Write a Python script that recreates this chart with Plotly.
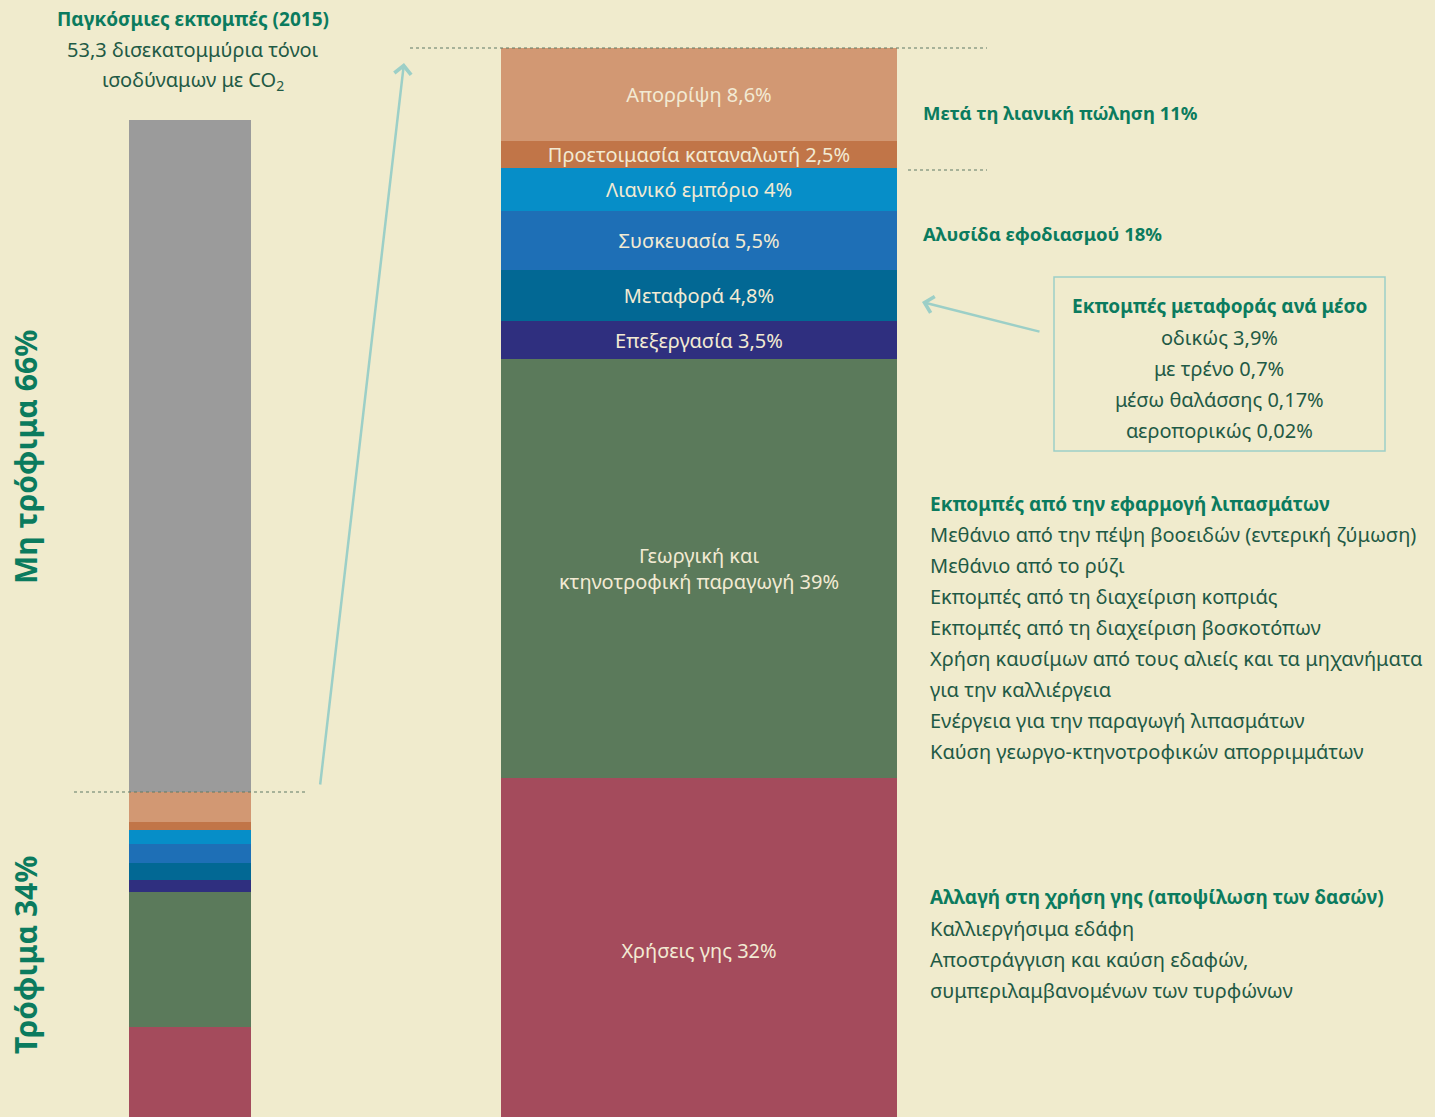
import plotly.graph_objects as go

# food chain stages, bottom to top of the stack
stages = ["Χρήσεις γης", "Γεωργική και<br>κτηνοτροφική παραγωγή", "Επεξεργασία", "Μεταφορά",
          "Συσκευασία", "Λιανικό εμπόριο", "Προετοιμασία καταναλωτή", "Απορρίψη"]
shares = [32, 39, 3.5, 4.8, 5.5, 4, 2.5, 8.6]
colors = ["#A44B5C", "#5B7A5B", "#2F2F7F", "#026894", "#1E6FB6", "#068EC8", "#C17548", "#D29873"]

food_share = 34
nonfood_share = 66

transport_modes = ["οδικώς", "με τρένο", "μέσω θαλάσσης", "αεροπορικώς"]
transport_shares = ["3,9", "0,7", "0,17", "0,02"]

farm_items = ["Μεθάνιο από την πέψη βοοειδών (εντερική ζύμωση)", "Μεθάνιο από το ρύζι",
              "Εκπομπές από τη διαχείριση κοπριάς", "Εκπομπές από τη διαχείριση βοσκοτόπων",
              "Χρήση καυσίμων από τους αλιείς και τα μηχανήματα", "για την καλλιέργεια",
              "Ενέργεια για την παραγωγή λιπασμάτων", "Καύση γεωργο-κτηνοτροφικών απορριμμάτων"]
land_items = ["Καλλιεργήσιμα εδάφη", "Αποστράγγιση και καύση εδαφών,",
              "συμπεριλαμβανομένων των τυρφώνων"]

BG = "#F0EBCD"
GREEN = "#0B7B5E"
DARK = "#1F5A45"
TEAL = "#9CCFC7"
FONT = "Noto Sans"


def pct(v):
    return str(v).replace(".", ",")


fig = go.Figure()

total = sum(shares)
for name, v, c in zip(stages, shares, colors):
    fig.add_trace(go.Bar(x=[190], y=[v * food_share / total], width=122, marker_color=c,
                         marker_line_width=0, showlegend=False, hoverinfo="skip", yaxis="y"))
fig.add_trace(go.Bar(x=[190], y=[nonfood_share], width=122, marker_color="#9B9B9B",
                     marker_line_width=0, showlegend=False, hoverinfo="skip", yaxis="y"))

for name, v, c in zip(stages, shares, colors):
    fig.add_trace(go.Bar(x=[699], y=[v], width=396, marker_color=c, marker_line_width=0,
                         text=[f"{name} {pct(v)}%"], textposition="inside",
                         insidetextanchor="middle", textangle=0, constraintext="none",
                         textfont=dict(family=FONT, size=20, color="#F2EAD3"),
                         showlegend=False, hoverinfo="skip", yaxis="y2"))

ann = []


def txt(x, y, s, bold=False, size=20, color=DARK, anchor="left"):
    ann.append(dict(x=x, y=y, xref="x", yref="y3", text=f"<b>{s}</b>" if bold else s,
                    showarrow=False, xanchor=anchor, yanchor="middle",
                    font=dict(family=FONT, size=size, color=GREEN if bold else color)))


txt(193, 19, "Παγκόσμιες εκπομπές (2015)", bold=True, size=19, anchor="center")
txt(193, 49, "53,3 δισεκατομμύρια τόνοι", anchor="center")
txt(193, 80, "ισοδύναμων με CO<sub>2</sub>", anchor="center")

ann.append(dict(x=25, y=457, xref="x", yref="y3", text="<b>Μη τρόφιμα 66%</b>", textangle=-90,
                showarrow=False, font=dict(family=FONT, size=30, color=GREEN)))
ann.append(dict(x=25, y=955, xref="x", yref="y3", text="<b>Τρόφιμα 34%</b>", textangle=-90,
                showarrow=False, font=dict(family=FONT, size=30, color=GREEN)))

txt(921, 112, "Μετά τη λιανική πώληση 11%", bold=True, size=18.5)
txt(921, 233, "Αλυσίδα εφοδιασμού 18%", bold=True, size=18.5)

txt(1219, 306, "Εκπομπές μεταφοράς ανά μέσο", bold=True, size=19, anchor="center")
for i, (m, s) in enumerate(zip(transport_modes, transport_shares)):
    txt(1219, 337 + 31 * i, f"{m} {s}%", anchor="center")

txt(928, 504, "Εκπομπές από την εφαρμογή λιπασμάτων", bold=True, size=19)
for i, s in enumerate(farm_items):
    txt(928, 534 + 31 * i, s)

txt(928, 897, "Αλλαγή στη χρήση γης (αποψίλωση των δασών)", bold=True, size=19)
for i, s in enumerate(land_items):
    txt(928, 928 + 31 * i, s)

# arrows
ann.append(dict(x=404, y=63, ax=320, ay=786, xref="x", yref="y3", axref="x", ayref="y3",
                text="", showarrow=True, arrowhead=4, arrowsize=1.3, arrowwidth=2.5,
                arrowcolor=TEAL))
ann.append(dict(x=922, y=302, ax=1041, ay=332, xref="x", yref="y3", axref="x", ayref="y3",
                text="", showarrow=True, arrowhead=4, arrowsize=1.3, arrowwidth=2.5,
                arrowcolor=TEAL))

dash = dict(color="#5E7A66", width=1.2, dash="dot")
shapes = [
    dict(type="line", x0=74, x1=306, y0=792, y1=792, xref="x", yref="y3", line=dash),
    dict(type="line", x0=410, x1=987, y0=48, y1=48, xref="x", yref="y3", line=dash),
    dict(type="line", x0=908, x1=987, y0=170, y1=170, xref="x", yref="y3", line=dash),
    dict(type="rect", x0=1054, x1=1385, y0=277, y1=451, xref="x", yref="y3",
         line=dict(color=TEAL, width=1.5)),
]

fig.update_layout(
    width=1435, height=1117,
    margin=dict(l=0, r=0, t=0, b=0),
    paper_bgcolor=BG, plot_bgcolor=BG,
    barmode="stack", bargap=0,
    xaxis=dict(range=[0, 1435], visible=False, fixedrange=True),
    yaxis=dict(range=[2.06, 111.79], visible=False, fixedrange=True),
    yaxis2=dict(range=[0.47, 104.4], visible=False, overlaying="y", fixedrange=True),
    yaxis3=dict(range=[1117, 0], visible=False, overlaying="y", fixedrange=True),
    annotations=ann,
    shapes=shapes,
)

fig.write_html("out.html", config={"displayModeBar": False},
               post_script="document.body.style.margin='0';")
